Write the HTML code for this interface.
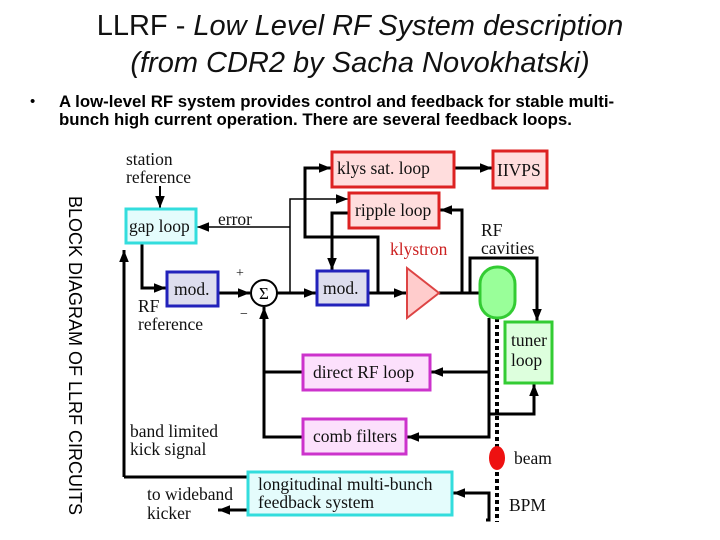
<!DOCTYPE html>
<html><head><meta charset="utf-8"><style>
body{margin:0;width:720px;height:540px;background:#fff;overflow:hidden;position:relative;font-family:"Liberation Sans",sans-serif}
.t{position:absolute;left:0;width:720px;text-align:center;font-size:29px;color:#111}
.b{position:absolute;left:59px;top:93px;font-size:16.8px;font-weight:bold;line-height:18px;width:660px;white-space:nowrap}
.v{position:absolute;left:85px;top:196px;transform-origin:0 0;transform:rotate(90deg);font-size:18px;white-space:nowrap}
</style></head><body>
<div class="t" style="top:10px">LLRF - <i>Low Level RF System description</i></div>
<div class="t" style="top:47px"><i>(from CDR2 by Sacha Novokhatski)</i></div>
<div style="position:absolute;left:30px;top:93px;font-size:15px">•</div>
<div class="b">A low-level RF system provides control and feedback for stable multi-<br>bunch high current operation. There are several feedback loops.</div>
<div class="v">BLOCK DIAGRAM OF LLRF CIRCUITS</div>
<svg width="720" height="540" style="position:absolute;left:0;top:0" font-family="Liberation Serif,serif" font-size="17.5">
<defs><marker id="m" viewBox="0 0 10 10" refX="10" refY="5" markerWidth="14" markerHeight="12" orient="auto" markerUnits="userSpaceOnUse"><path d="M0,1L10,5L0,9z"/></marker></defs>
<g stroke="#000" stroke-width="3" fill="none">
<path d="M160 186V208" stroke-width="2" marker-end="url(#m)"/>
<path d="M142 243V288H166" marker-end="url(#m)"/>
<path d="M218 293H250" marker-end="url(#m)"/>
<path d="M277 293H316" marker-end="url(#m)"/>
<path d="M290 293V199H348" stroke-width="1.5" marker-end="url(#m)"/>
<path d="M290 227H197" stroke-width="1.5" marker-end="url(#m)"/>
<path d="M378 293V237H305V168H331" marker-end="url(#m)"/>
<path d="M454 168H492" marker-end="url(#m)"/>
<path d="M368 293H406" marker-end="url(#m)"/>
<path d="M349 213H332V270" marker-end="url(#m)"/>
<path d="M439 293H480"/>
<path d="M462 293V210H440" marker-end="url(#m)"/>
<path d="M470 293V258H537V321" marker-end="url(#m)"/>
<path d="M489 318V437H407" marker-end="url(#m)"/>
<path d="M489 372H431" marker-end="url(#m)"/>
<path d="M489 414H534V384" marker-end="url(#m)"/>
<path d="M264 307V437H303M264 372H303"/>
<path d="M264 340V307" marker-end="url(#m)"/>
<path d="M124 477V250" marker-end="url(#m)"/>
<path d="M124 477H248"/>
<path d="M248 510H218" marker-end="url(#m)"/>
<path d="M486 520H489V493H453" marker-end="url(#m)"/>
</g>
<path d="M497 318V522" stroke="#000" stroke-width="4" stroke-dasharray="4 3"/>
<g stroke-width="3">
<rect x="332" y="152" width="122" height="35" fill="#fdd" stroke="#d22"/>
<rect x="493" y="151" width="54" height="37" fill="#fdd" stroke="#d22"/>
<rect x="349" y="193" width="90" height="35" fill="#fdd" stroke="#d22"/>
<rect x="126" y="209" width="70" height="34" fill="#e4fcfc" stroke="#3dd"/>
<rect x="167" y="272" width="51" height="34" fill="#dde" stroke="#22b"/>
<rect x="317" y="271" width="51" height="34" fill="#dde" stroke="#22b"/>
<path d="M407 268L439 293L407 318Z" fill="#fcc" stroke="#d44" stroke-width="2"/>
<rect x="480" y="267" width="35" height="51" rx="17" fill="#9f9" stroke="#3c3"/>
<rect x="505" y="322" width="47" height="61" fill="#dfd" stroke="#3c3"/>
<rect x="303" y="355" width="127" height="35" fill="#fce0fc" stroke="#c3c"/>
<rect x="303" y="419" width="103" height="35" fill="#fce0fc" stroke="#c3c"/>
<rect x="248" y="472" width="204" height="43" fill="#e4fcfc" stroke="#3dd"/>
</g>
<circle cx="264" cy="293" r="13" fill="#fff" stroke="#000" stroke-width="2"/>
<text x="264" y="299" text-anchor="middle" font-size="17">Σ</text>
<ellipse cx="497" cy="458" rx="8" ry="12" fill="#e11"/>
<g fill="#111">
<text x="337" y="174">klys sat. loop</text>
<text x="497" y="176">IIVPS</text>
<text x="355" y="216">ripple loop</text>
<text x="129" y="232">gap loop</text>
<text x="174" y="295">mod.</text>
<text x="323" y="294">mod.</text>
<text x="511" y="346">tuner</text><text x="511" y="366">loop</text>
<text x="313" y="378">direct RF loop</text>
<text x="313" y="442">comb filters</text>
<text x="258" y="490">longitudinal multi-bunch</text>
<text x="258" y="508">feedback system</text>
<text x="126" y="165">station</text><text x="126" y="183">reference</text>
<text x="218" y="225">error</text>
<text x="236" y="277" font-size="14">+</text><text x="240" y="318" font-size="14">−</text>
<text x="138" y="312">RF</text><text x="138" y="330">reference</text>
<text x="390" y="255" fill="#c22">klystron</text>
<text x="481" y="236">RF</text><text x="481" y="254">cavities</text>
<text x="130" y="437">band limited</text><text x="130" y="455">kick signal</text>
<text x="147" y="500">to wideband</text><text x="147" y="519">kicker</text>
<text x="514" y="464">beam</text>
<text x="509" y="511">BPM</text>
</g>
</svg>
</body></html>
